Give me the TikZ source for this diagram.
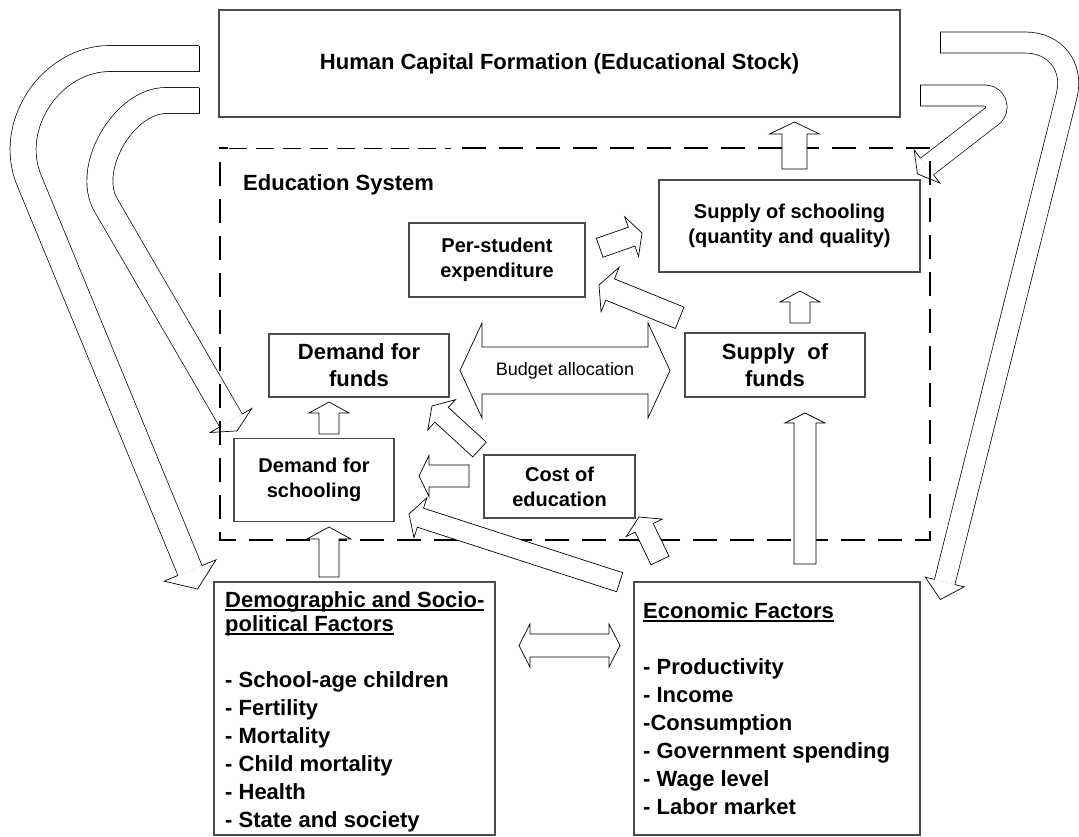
\documentclass[tikz,border=0pt]{standalone}
\usepackage{fontspec}
\setmainfont{Liberation Sans}
\usetikzlibrary{calc}
\newcommand\ulx[1]{\setbox0\hbox{#1}\rlap{\rule[-4pt]{\wd0}{1.8pt}}\box0}
\newcommand\blockarrow[5]{%
  \coordinate (ba-h) at ($(#2)!#5!(#1)$);
  \draw[barrow] ($(#1)!#3!90:(#2)$) -- ($(ba-h)!#3!90:(#2)$) -- ($(ba-h)!#4!90:(#2)$) -- (#2) -- ($(ba-h)!#4!-90:(#2)$) -- ($(ba-h)!#3!-90:(#2)$) -- ($(#1)!#3!-90:(#2)$) -- cycle;}
\newcommand\dblarrow[5]{%
  \coordinate (da-1) at ($(#1)!#5!(#2)$);
  \coordinate (da-2) at ($(#2)!#5!(#1)$);
  \draw[barrow] (#1) -- ($(da-1)!#4!90:(#2)$) -- ($(da-1)!#3!90:(#2)$) -- ($(da-2)!#3!-90:(#1)$) -- ($(da-2)!#4!-90:(#1)$) -- (#2) -- ($(da-2)!#4!90:(#1)$) -- ($(da-2)!#3!90:(#1)$) -- ($(da-1)!#3!-90:(#2)$) -- ($(da-1)!#4!-90:(#2)$) -- cycle;}
\newcommand\headat[4]{%
  \filldraw[fill=white, line width=0.7pt, line join=miter] ($(#1)!#3!90:(#2)$) -- ($(#1)!#4!90:(#2)$) -- (#2) -- ($(#1)!#4!-90:(#2)$) -- ($(#1)!#3!-90:(#2)$);}
\tikzset{
  box/.style={draw=black!70, line width=1.1pt, inner sep=0pt, align=center, font=\bfseries\fontsize{20}{25}\selectfont},
  bigtxt/.style={font=\bfseries\fontsize{22}{27}\selectfont},
  barrow/.style={draw=black, fill=white, line width=0.7pt, line join=miter},
  curvy/.style={draw=black, line width=0.7pt, double=white, double distance=#1},
  thickdash/.style={line width=2.8pt, dash pattern=on 24pt off 13pt},
  thindash/.style={line width=0.8pt, dash pattern=on 18pt off 9pt},
}
\begin{document}
\begin{tikzpicture}[x=1pt,y=-1pt]
\useasboundingbox[fill=white] (0,0) rectangle (1079,836);

% boxes
\node[box, bigtxt, minimum width=681pt, minimum height=107pt] (hcf) at (559.5,63.5) {Human Capital Formation (Educational Stock)};
\node[box, minimum width=176pt, minimum height=74pt] (pse) at (497,260) {Per-student\\expenditure};
\node[box, minimum width=261pt, minimum height=92pt] (sos) at (789.5,226) {Supply of schooling\\(quantity and quality)};
\node[box, bigtxt, minimum width=180pt, minimum height=63pt] (dff) at (359,365.5) {Demand for\\funds};
\node[box, bigtxt, minimum width=180pt, minimum height=64pt] (sof) at (775,365) {Supply~ of\\funds};
\node[box, minimum width=160pt, minimum height=83pt] (dfs) at (314,480) {Demand for\\schooling};
\node[box, minimum width=151pt, minimum height=63pt] (coe) at (559.5,486.5) {Cost of\\education};
\node[box, minimum width=281pt, minimum height=253pt] (demo) at (354.5,708.5) {};
\node[box, minimum width=286pt, minimum height=253pt] (econ) at (777,708.5) {};

\node[anchor=north west, inner sep=0pt, align=left, font=\bfseries\fontsize{22}{28}\selectfont] (demotext) at (225,591)
  {\ulx{Demographic and Socio-}\\[-4pt]\ulx{political Factors}\\[28pt]- School-age children\\- Fertility\\- Mortality\\- Child mortality\\- Health\\- State and society};
\node[anchor=north west, inner sep=0pt, align=left, font=\bfseries\fontsize{22}{28}\selectfont] (econtext) at (643,602)
  {\ulx{Economic Factors}\\[28pt]- Productivity\\- Income\\-Consumption\\- Government spending\\- Wage level\\- Labor market};

% curved arrows (left)
\draw[curvy=25.3pt] (199,58.5) -- (110,58.5) .. controls (51,58.5) and (6.5,125.3) .. (29,180) -- (190,570.5);
\draw[line width=0.7pt] (199,45.5) -- (199,71.5);
\coordinate (lob) at (190,570.5); \coordinate (lot) at (197.6,589);
\headat{lob}{lot}{13pt}{28pt}

\draw[curvy=25.3pt] (199,100.5) -- (166,100.5) .. controls (123.8,100.5) and (84.6,168.4) .. (105.8,205) -- (231,420.5);
\draw[line width=0.7pt] (199,87.5) -- (199,113.5);
\coordinate (lib) at (231,420.5); \coordinate (lit) at (237,430.9);
\headat{lib}{lit}{13pt}{24pt}

% curved arrows (right)
\draw[curvy=20.3pt] (940,42.5) -- (1025,42.5) .. controls (1055.3,42.5) and (1074,66.6) .. (1066.6,95.9) -- (944.7,582);
\draw[line width=0.7pt] (940,32) -- (940,53);
\coordinate (rob) at (944.7,582); \coordinate (rot) at (940.3,599.5);
\headat{rob}{rot}{10.5pt}{20pt}

\draw[curvy=20.3pt] (920,95.5) -- (985,95.5) .. controls (991.35,95.5) and (996.5,100.65) .. (996.5,107) .. controls (996.5,110.62) and (994.8,114.03) .. (991.9,116.2) -- (927,166.5);
\draw[line width=0.7pt] (920,85) -- (920,106);
\coordinate (rib) at (927,166.5); \coordinate (rit) at (917.5,173.9);
\headat{rib}{rit}{10.5pt}{21pt}

% education system dashed frame
\draw[thickdash] (462,148) -- (930,148) -- (930,540) -- (220,540) -- (220,148);
\draw[thindash] (229,148) -- (451,148);
\draw[line width=2.8pt] (218.6,148) -- (228,148);
\node[anchor=base west, inner sep=0pt, font=\bfseries\fontsize{22}{26}\selectfont] (edsys) at (243,190) {Education System};

% straight block arrows
\coordinate (a1s) at (794.5,169); \coordinate (a1t) at (794.5,122);
\blockarrow{a1s}{a1t}{12.5pt}{25pt}{12pt}
\coordinate (a2s) at (800,323); \coordinate (a2t) at (800,291);
\blockarrow{a2s}{a2t}{10pt}{20pt}{11pt}
\coordinate (a3s) at (805,564); \coordinate (a3t) at (805,413);
\blockarrow{a3s}{a3t}{11pt}{20pt}{10pt}
\coordinate (a4s) at (329,434); \coordinate (a4t) at (329,402);
\blockarrow{a4s}{a4t}{10pt}{20pt}{11pt}
\coordinate (a5s) at (329,577); \coordinate (a5t) at (329,527);
\blockarrow{a5s}{a5t}{10pt}{22pt}{12pt}
\coordinate (a6s) at (469,476); \coordinate (a6t) at (419,476);
\blockarrow{a6s}{a6t}{11pt}{20.5pt}{10pt}
\coordinate (a7s) at (479.5,449.5); \coordinate (a7t) at (432,406);
\blockarrow{a7s}{a7t}{10pt}{20.5pt}{13pt}
\coordinate (a8s) at (619.7,582.2); \coordinate (a8t) at (409,514);
\blockarrow{a8s}{a8t}{10pt}{21pt}{12pt}
\coordinate (a9s) at (660,560.5); \coordinate (a9t) at (639,517);
\blockarrow{a9s}{a9t}{10pt}{20pt}{12pt}
\coordinate (a10s) at (599.7,247.8); \coordinate (a10t) at (642,233);
\blockarrow{a10s}{a10t}{10pt}{21pt}{11pt}
\coordinate (a11s) at (679.7,317.8); \coordinate (a11t) at (599,285);
\blockarrow{a11s}{a11t}{11.5pt}{24pt}{12pt}

% double arrows
\coordinate (bl) at (460,370.5); \coordinate (br) at (670,370.5);
\dblarrow{bl}{br}{23.5pt}{47.5pt}{22pt}
\node[inner sep=0pt, font=\fontsize{18}{22}\selectfont] (budget) at (565,370.5) {Budget allocation};
\coordinate (dl) at (519,645.5); \coordinate (dr) at (620,645.5);
\dblarrow{dl}{dr}{11.5pt}{21.5pt}{11pt}
\end{tikzpicture}
\end{document}
